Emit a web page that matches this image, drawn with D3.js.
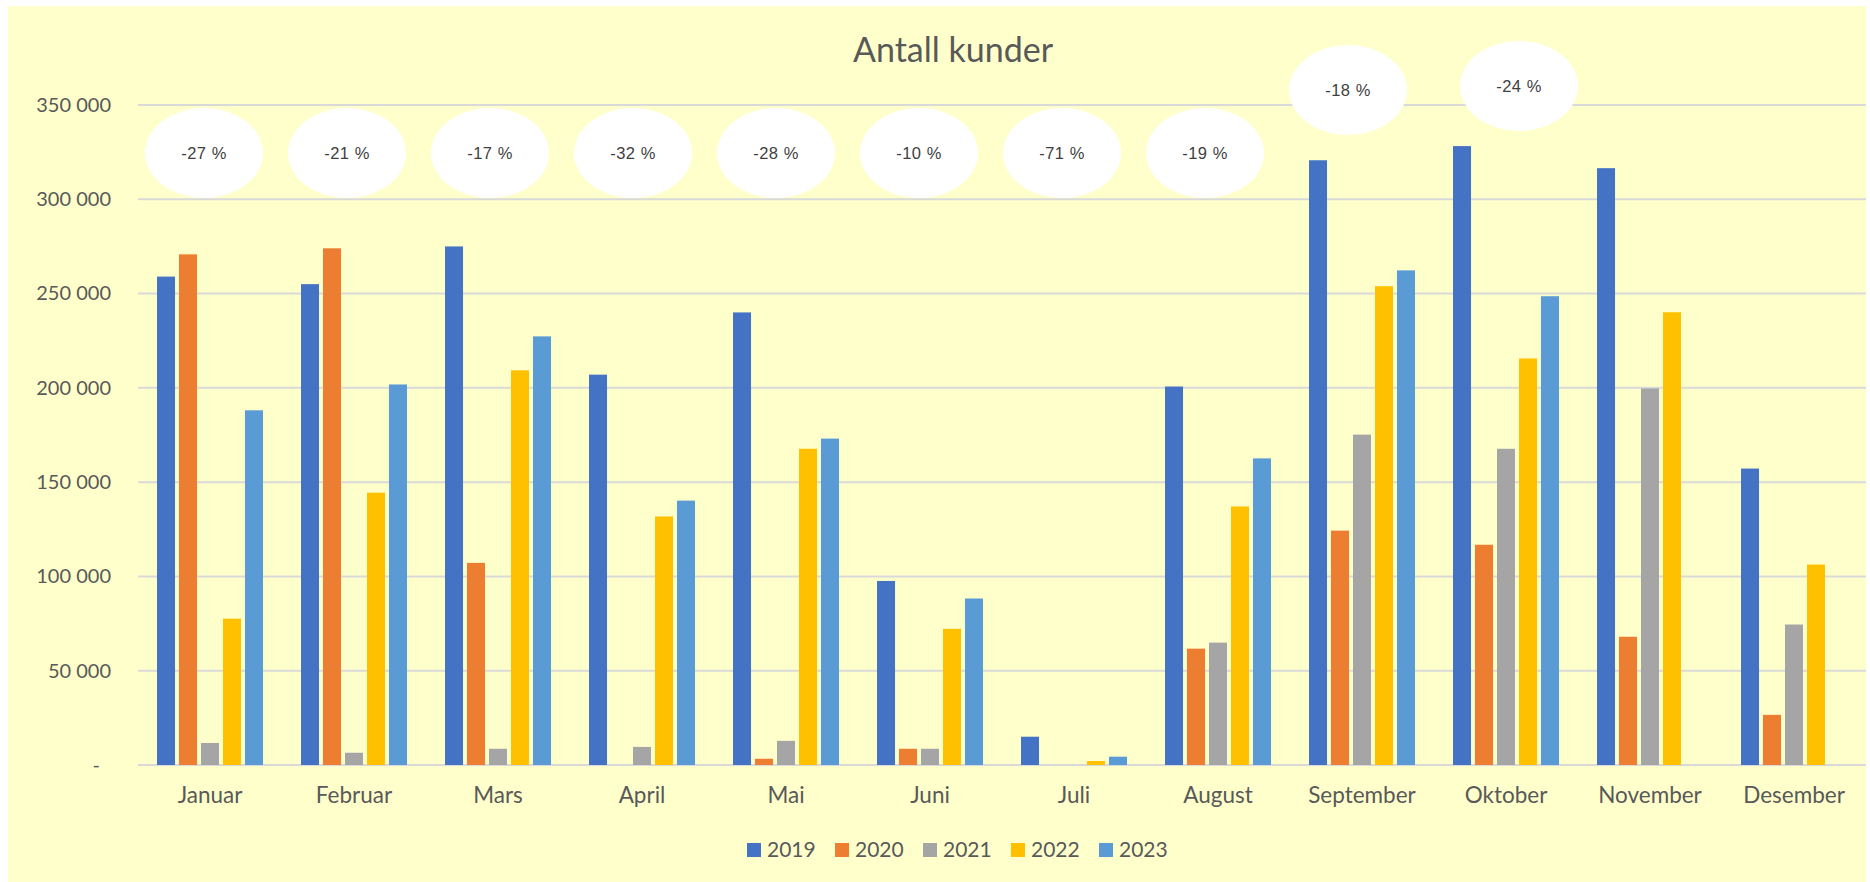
<!DOCTYPE html>
<html>
<head>
<meta charset="utf-8">
<script src="https://cdn.jsdelivr.net/npm/d3@7/dist/d3.min.js"></script>
<style>
  html, body { margin: 0; padding: 0; background: #ffffff; }
  svg { display: block; }
</style>
</head>
<body>
<svg id="chart" width="1870" height="882"></svg>
<script>
// ---------- data ----------
const months = ["Januar", "Februar", "Mars", "April", "Mai", "Juni", "Juli", "August", "September", "Oktober", "November", "Desember"];
const years = ["2019", "2020", "2021", "2022", "2023"];
const v2019 = [259000, 255000, 275000, 207000, 240000, 97600, 15000, 200700, 320700, 328200, 316500, 157200];
const v2020 = [270800, 274000, 107200, 0, 3300, 8600, 0, 61700, 124300, 116800, 68000, 26600];
const v2021 = [11700, 6500, 8600, 9600, 12800, 8600, 0, 64900, 175200, 167700, 199700, 74500];
const v2022 = [77600, 144400, 209300, 131800, 167700, 72200, 2100, 137100, 253900, 215600, 240100, 106300];
const v2023 = [188100, 201800, 227300, 140200, 173100, 88300, 4400, 162600, 262300, 248600, null, null];
const changeLabels = ["-27 %", "-21 %", "-17 %", "-32 %", "-28 %", "-10 %", "-71 %", "-19 %", "-18 %", "-24 %", null, null];
const yTicks = [0, 50000, 100000, 150000, 200000, 250000, 300000, 350000];
const title = "Antall kunder";

// ---------- styling / layout ----------
const colors = { "2019": "#4472C4", "2020": "#ED7D31", "2021": "#A5A5A5", "2022": "#FFC000", "2023": "#5B9BD5" };
const textColor = "#595959";
const font = "Lato, 'Open Sans', sans-serif";
const plot = { left: 138, right: 1866, top: 105, bottom: 765 };
// nudges for the hand-placed annotation bubbles
const noteLift = { September: -63, Oktober: -67 };
const noteShift = { Oktober: 28 };

const series = years.map((yr, i) => ({ year: yr, values: [v2019, v2020, v2021, v2022, v2023][i] }));

const svg = d3.select("#chart");

svg.append("rect")
  .attr("x", 8).attr("y", 6)
  .attr("width", 1858).attr("height", 876)
  .attr("fill", "#FFFFCC");

const x0 = d3.scaleBand().domain(months).range([plot.left, plot.right]).paddingInner(0).paddingOuter(0);
const x1 = d3.scaleBand().domain(years).range([19, x0.bandwidth() - 19]).paddingInner(0.18).paddingOuter(0);
const y = d3.scaleLinear().domain([0, 350000]).range([plot.bottom, plot.top]);

// gridlines
svg.append("g").selectAll("line").data(yTicks).join("line")
  .attr("x1", plot.left).attr("x2", plot.right)
  .attr("y1", d => y(d)).attr("y2", d => y(d))
  .attr("stroke", "#D9D9D9").attr("stroke-width", 2);

// y axis
const fmt = d => d === 0 ? "-" : d3.format(",")(d).replace(/,/g, " ");
const yAxis = svg.append("g")
  .attr("transform", `translate(${plot.left},0)`)
  .call(d3.axisLeft(y).tickValues(yTicks).tickFormat(fmt).tickSize(0).tickPadding(27));
yAxis.select(".domain").remove();
yAxis.selectAll("text")
  .attr("fill", textColor).style("font-family", font).style("font-size", "20px")
  .attr("dx", d => d === 0 ? -11 : 0);

// bars
const groups = svg.append("g").selectAll("g").data(series).join("g")
  .attr("fill", d => colors[d.year]);
groups.selectAll("rect")
  .data(d => months.map((m, i) => ({ month: m, year: d.year, value: d.values[i] })).filter(e => e.value !== null))
  .join("rect")
  .attr("x", d => x0(d.month) + x1(d.year))
  .attr("width", x1.bandwidth())
  .attr("y", d => y(d.value))
  .attr("height", d => y(0) - y(d.value));

// x axis labels
const xAxis = svg.append("g")
  .attr("transform", `translate(0,${plot.bottom})`)
  .call(d3.axisBottom(x0).tickSize(0).tickPadding(22));
xAxis.select(".domain").remove();
xAxis.selectAll("text")
  .attr("fill", textColor).style("font-family", font).style("font-size", "22.5px");

// annotation bubbles
const noteX = d3.scaleBand().domain(months).range([plot.left - 5.5, plot.right - 17.5]);
const notes = months.map((m, i) => ({ month: m, label: changeLabels[i] })).filter(d => d.label);
const noteG = svg.append("g").selectAll("g").data(notes).join("g")
  .attr("transform", d => {
    const cx = noteX(d.month) + noteX.bandwidth() / 2 + (noteShift[d.month] || 0);
    const cy = y(350000) + 48 + (noteLift[d.month] || 0);
    return `translate(${cx},${cy})`;
  });
noteG.append("ellipse").attr("rx", 59).attr("ry", 45).attr("fill", "#FFFFFF");
noteG.append("text")
  .attr("text-anchor", "middle").attr("dy", "0.35em")
  .attr("fill", "#404040")
  .style("font-family", "'Liberation Sans', Arial, sans-serif").style("font-size", "16.5px")
  .style("letter-spacing", "0.5px")
  .text(d => d.label);

// title
svg.append("text")
  .attr("x", 953).attr("y", 62)
  .attr("text-anchor", "middle")
  .attr("fill", textColor)
  .style("font-family", font).style("font-size", "34px")
  .text(title);

// legend
const legendItemW = 88;
const legend = svg.append("g")
  .attr("transform", `translate(${957 - (legendItemW * years.length - 20) / 2},850)`);
const li = legend.selectAll("g").data(years).join("g")
  .attr("transform", (d, i) => `translate(${i * legendItemW},0)`);
li.append("rect").attr("x", 0).attr("y", -7).attr("width", 14).attr("height", 14)
  .attr("fill", d => colors[d]);
li.append("text").attr("x", 20).attr("dy", "0.35em")
  .attr("fill", textColor).style("font-family", font).style("font-size", "21px")
  .text(d => d);
</script>
</body>
</html>
